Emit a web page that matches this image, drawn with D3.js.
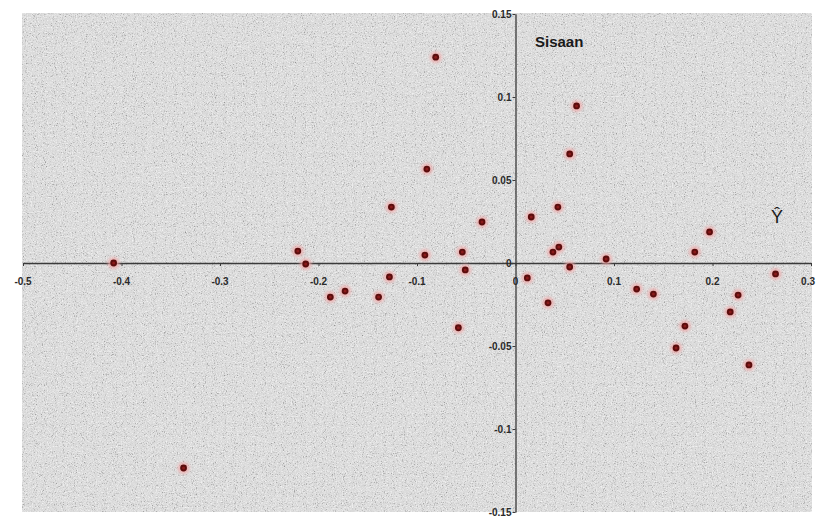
<!DOCTYPE html>
<html>
<head>
<meta charset="utf-8">
<script src="https://cdn.jsdelivr.net/npm/d3@7"></script>
<style>
html,body{margin:0;padding:0;background:#fff;}
svg{display:block;}
</style>
</head>
<body>
<svg id="chart" width="816" height="517"></svg>
<script>
// Data
const xValues = [-0.408,-0.337,-0.221,-0.213,-0.188,-0.173,-0.139,-0.128,-0.126,-0.092,-0.090,-0.081,-0.054,-0.051,-0.034,-0.058,0.012,0.016,0.033,0.038,0.044,0.043,0.055,0.062,0.055,0.092,0.123,0.140,0.182,0.172,0.163,0.197,0.218,0.226,0.264,0.237];
const yValues = [0.000,-0.1235,0.0072,-0.0006,-0.0205,-0.0169,-0.0205,-0.0084,0.0337,0.0048,0.0566,0.124,0.0066,-0.0042,0.0247,-0.039,-0.009,0.0277,-0.024,0.0066,0.0096,0.0337,0.0657,0.0946,-0.0024,0.0024,-0.0157,-0.0187,0.0066,-0.038,-0.0512,0.0187,-0.0295,-0.0193,-0.0066,-0.0614];
const xTicks = [-0.5,-0.4,-0.3,-0.2,-0.1,0,0.1,0.2,0.3];
const xTickLabels = ["-0.5","-0.4","-0.3","-0.2","-0.1","0","0.1","0.2","0.3"];
const yTicks = [-0.15,-0.1,-0.05,0,0.05,0.1,0.15];
const yTickLabels = ["-0.15","-0.1","-0.05","0","0.05","0.1","0.15"];
const titleText = "Sisaan";
const axisLabel = "Ŷ";

const svg = d3.select("#chart");
const x = d3.scaleLinear().domain([-0.5,0.3]).range([23,811]);
const y = d3.scaleLinear().domain([-0.15,0.15]).range([512,14]);

// noise texture
const defs = svg.append("defs");
const f = defs.append("filter").attr("id","noise").attr("x",0).attr("y",0).attr("width","100%").attr("height","100%");
f.append("feTurbulence").attr("type","fractalNoise").attr("baseFrequency",0.9).attr("numOctaves",2).attr("seed",3).attr("result","t");
f.append("feColorMatrix").attr("in","t").attr("type","matrix")
  .attr("values","0 0 0 0 0  0 0 0 0 0  0 0 0 0 0  -2.4 0 0 0 1.05");
const f2 = defs.append("filter").attr("id","noise2").attr("x",0).attr("y",0).attr("width","100%").attr("height","100%");
f2.append("feTurbulence").attr("type","fractalNoise").attr("baseFrequency",0.8).attr("numOctaves",2).attr("seed",11).attr("result","t");
f2.append("feColorMatrix").attr("in","t").attr("type","matrix")
  .attr("values","0 0 0 0 1  0 0 0 0 1  0 0 0 0 1  -2.0 0 0 0 1.1");

const blur = defs.append("filter").attr("id","halo").attr("x","-100%").attr("y","-100%").attr("width","300%").attr("height","300%");
blur.append("feGaussianBlur").attr("stdDeviation",1.8);
const soft = defs.append("filter").attr("id","soft").attr("x","-100%").attr("y","-100%").attr("width","300%").attr("height","300%");
soft.append("feGaussianBlur").attr("stdDeviation",0.6);

const x0 = 22, x1 = 812, y0 = 13, y1 = 512;
svg.append("rect").attr("x",x0).attr("y",y0).attr("width",x1-x0).attr("height",y1-y0).attr("fill","#dadada");
svg.append("rect").attr("x",x0).attr("y",y0).attr("width",x1-x0).attr("height",y1-y0).attr("fill","#000").attr("filter","url(#noise)").attr("opacity",0.4);
svg.append("rect").attr("x",x0).attr("y",y0).attr("width",x1-x0).attr("height",y1-y0).attr("fill","#fff").attr("filter","url(#noise2)").attr("opacity",0.85);

// axes lines through origin
const axisColor = "#3a3a3a";
const xAxis = d3.axisBottom(x).tickValues(xTicks).tickFormat(()=>"").tickSize(3).tickSizeOuter(0);
const gx = svg.append("g").attr("transform",`translate(0,${y(0)})`).call(xAxis);
gx.select(".domain").attr("stroke",axisColor).attr("stroke-width",1.3);
gx.selectAll(".tick line").attr("stroke",axisColor);

const yAxis = d3.axisLeft(y).tickValues(yTicks).tickFormat(()=> "").tickSize(3).tickSizeOuter(0);
const gy = svg.append("g").attr("transform",`translate(${x(0)},0)`).call(yAxis);
gy.select(".domain").attr("stroke",axisColor).attr("stroke-width",1.3);
gy.selectAll(".tick line").attr("stroke",axisColor);

// tick labels
const font = "Arial, 'Liberation Sans', sans-serif";
svg.append("g").selectAll("text").data(xTicks).join("text")
  .attr("x",(d,i)=> i===xTicks.length-1 ? 815 : x(d)).attr("y",y(0)+22)
  .attr("text-anchor",(d,i)=> i===xTicks.length-1 ? "end" : "middle")
  .attr("font-family",font).attr("font-size",10).attr("font-weight","bold").attr("fill","#2a2a2a")
  .text((d,i)=>xTickLabels[i]);
svg.append("g").selectAll("text").data(yTicks).join("text")
  .attr("x",x(0)-4).attr("y",d=>y(d)+3.5)
  .attr("text-anchor","end")
  .attr("font-family",font).attr("font-size",10).attr("font-weight","bold").attr("fill","#2a2a2a")
  .text((d,i)=>yTickLabels[i]);

// title and label
svg.append("text").attr("x",535).attr("y",47).attr("font-family",font).attr("font-size",15).attr("font-weight","bold").attr("fill","#1a1a1a").text(titleText);
svg.append("text").attr("x",777).attr("y",223).attr("text-anchor","middle").attr("font-family",font).attr("font-size",18).attr("fill","#1a1a1a").text(axisLabel);

// points
const pts = xValues.map((v,i)=>({x:v,y:yValues[i]}));
const gp = svg.append("g");
gp.selectAll("circle.halo").data(pts).join("circle").attr("class","halo")
  .attr("cx",d=>x(d.x)).attr("cy",d=>y(d.y)).attr("r",6)
  .attr("fill","#f0a8a8").attr("opacity",0.75).attr("filter","url(#halo)");
gp.selectAll("circle.pt").data(pts).join("circle").attr("class","pt")
  .attr("cx",d=>x(d.x)).attr("cy",d=>y(d.y)).attr("r",3.4)
  .attr("fill","#5a0f0f").attr("filter","url(#soft)");
gp.selectAll("circle.core").data(pts).join("circle").attr("class","core")
  .attr("cx",d=>x(d.x)).attr("cy",d=>y(d.y)).attr("r",1.5)
  .attr("fill","#8a1a1a");
</script>
</body>
</html>
